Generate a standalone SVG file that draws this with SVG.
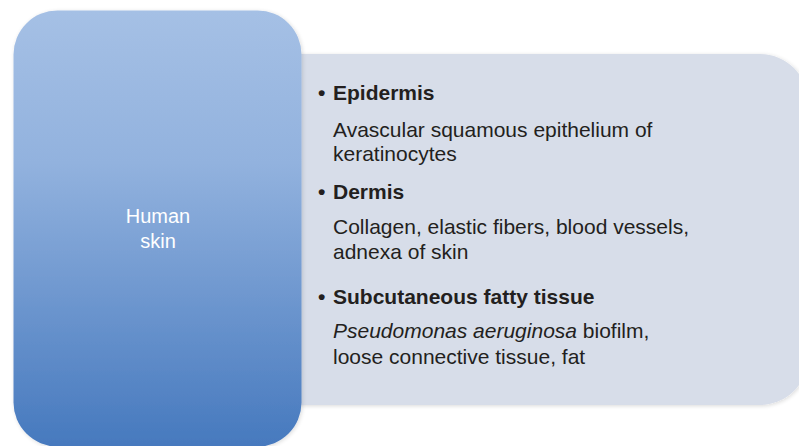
<svg xmlns="http://www.w3.org/2000/svg" width="799" height="446" viewBox="0 0 799 446">
  <defs>
    <linearGradient id="blueGrad" x1="0" y1="0" x2="0" y2="1">
      <stop offset="0" stop-color="#a5c0e5"/>
      <stop offset="0.35" stop-color="#92b2de"/>
      <stop offset="1" stop-color="#4679be"/>
    </linearGradient>
    <filter id="soft" x="-10%" y="-10%" width="120%" height="120%">
      <feGaussianBlur in="SourceAlpha" stdDeviation="2"/>
      <feOffset dx="1" dy="1" result="b"/>
      <feComponentTransfer><feFuncA type="linear" slope="0.15"/></feComponentTransfer>
      <feMerge><feMergeNode/><feMergeNode in="SourceGraphic"/></feMerge>
    </filter>
    <style>
      .body { font-family: "Liberation Sans", Arial, sans-serif; font-size: 21px; fill: #231f20; }
      .head { font-weight: bold; }
      .label { font-family: "Liberation Sans", Arial, sans-serif; font-size: 20px; fill: #ffffff; text-anchor: middle; }
    </style>
  </defs>
  <rect width="799" height="446" fill="#ffffff"/>

  <g id="details">
    <rect x="250" y="54" width="558" height="351" rx="48" ry="48" fill="#d7dde9" filter="url(#soft)"/>
    <text class="body head"><tspan x="318" y="100">•</tspan><tspan x="333" y="100">Epidermis</tspan></text>
    <text class="body" x="333" y="136.5">Avascular squamous epithelium of</text>
    <text class="body" x="333" y="161">keratinocytes</text>
    <text class="body head"><tspan x="318" y="199">•</tspan><tspan x="333" y="199">Dermis</tspan></text>
    <text class="body" x="333" y="234">Collagen, elastic fibers, blood vessels,</text>
    <text class="body" x="333" y="259">adnexa of skin</text>
    <text class="body head"><tspan x="318" y="304">•</tspan><tspan x="333" y="304">Subcutaneous fatty tissue</tspan></text>
    <text class="body" x="333" y="338"><tspan font-style="italic">Pseudomonas aeruginosa</tspan> biofilm,</text>
    <text class="body" x="333" y="364">loose connective tissue, fat</text>
  </g>

  <g id="human-skin">
    <rect x="13.5" y="10.5" width="288" height="436" rx="44" ry="44" fill="url(#blueGrad)" filter="url(#soft)"/>
    <text class="label" x="158" y="223">Human</text>
    <text class="label" x="158" y="248">skin</text>
  </g>

  <g id="connectors"/>
</svg>
